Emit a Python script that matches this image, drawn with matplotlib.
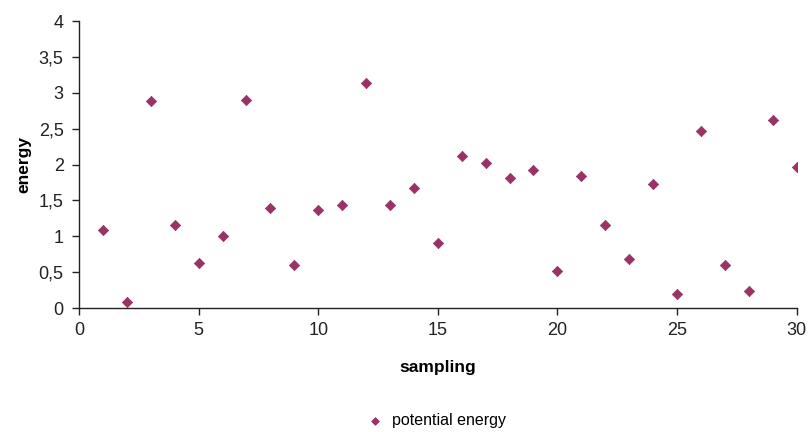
import matplotlib
matplotlib.use("Agg")
import matplotlib.pyplot as plt
from matplotlib.ticker import FuncFormatter

plt.rcParams['font.family'] = ['Liberation Sans', 'DejaVu Sans']

sampling = list(range(1, 31))
energy = [1.09, 0.08, 2.89, 1.16, 0.63, 1.01, 2.90, 1.40, 0.60, 1.36,
          1.44, 3.14, 1.44, 1.67, 0.90, 2.12, 2.02, 1.82, 1.92, 0.52,
          1.84, 1.16, 0.69, 1.73, 0.19, 2.47, 0.60, 0.24, 2.62, 1.96]
series_label = "potential energy"
x_ticks = [0, 5, 10, 15, 20, 25, 30]
y_ticks = [0, 0.5, 1, 1.5, 2, 2.5, 3, 3.5, 4]

fig = plt.figure(figsize=(8.1, 4.32), dpi=100)
ax = fig.add_axes([0.0975, 0.287, 0.886, 0.664])

ax.scatter(sampling, energy, marker='D', s=28, color='#993366',
           edgecolors='#993366', linewidths=0.5, label=series_label, zorder=3)

ax.set_xlim(0, 30)
ax.set_ylim(0, 4)
ax.set_xticks(x_ticks)
ax.set_yticks(y_ticks)

def comma_fmt(v, pos):
    return f"{v:g}".replace('.', ',')

ax.yaxis.set_major_formatter(FuncFormatter(comma_fmt))
ax.xaxis.set_major_formatter(FuncFormatter(comma_fmt))

for side in ('top', 'right'):
    ax.spines[side].set_visible(False)
for side in ('left', 'bottom'):
    ax.spines[side].set_color('#222222')
    ax.spines[side].set_linewidth(1.0)

ax.tick_params(axis='both', direction='out', length=5, width=1,
               color='#222222', labelsize=13, labelcolor='#222222')
ax.tick_params(axis='y', pad=6)
ax.tick_params(axis='x', pad=5)

ax.set_xlabel("sampling", fontsize=12.5, fontweight='bold', labelpad=15)
ax.set_ylabel("energy", fontsize=12.5, fontweight='bold')
ax.yaxis.set_label_coords(-0.066, 0.5)

fig.legend(loc='lower center', bbox_to_anchor=(0.534, -0.025), frameon=False,
           fontsize=11.5, handletextpad=0.1, markerscale=0.75)

fig.savefig("out.png", dpi=100)
